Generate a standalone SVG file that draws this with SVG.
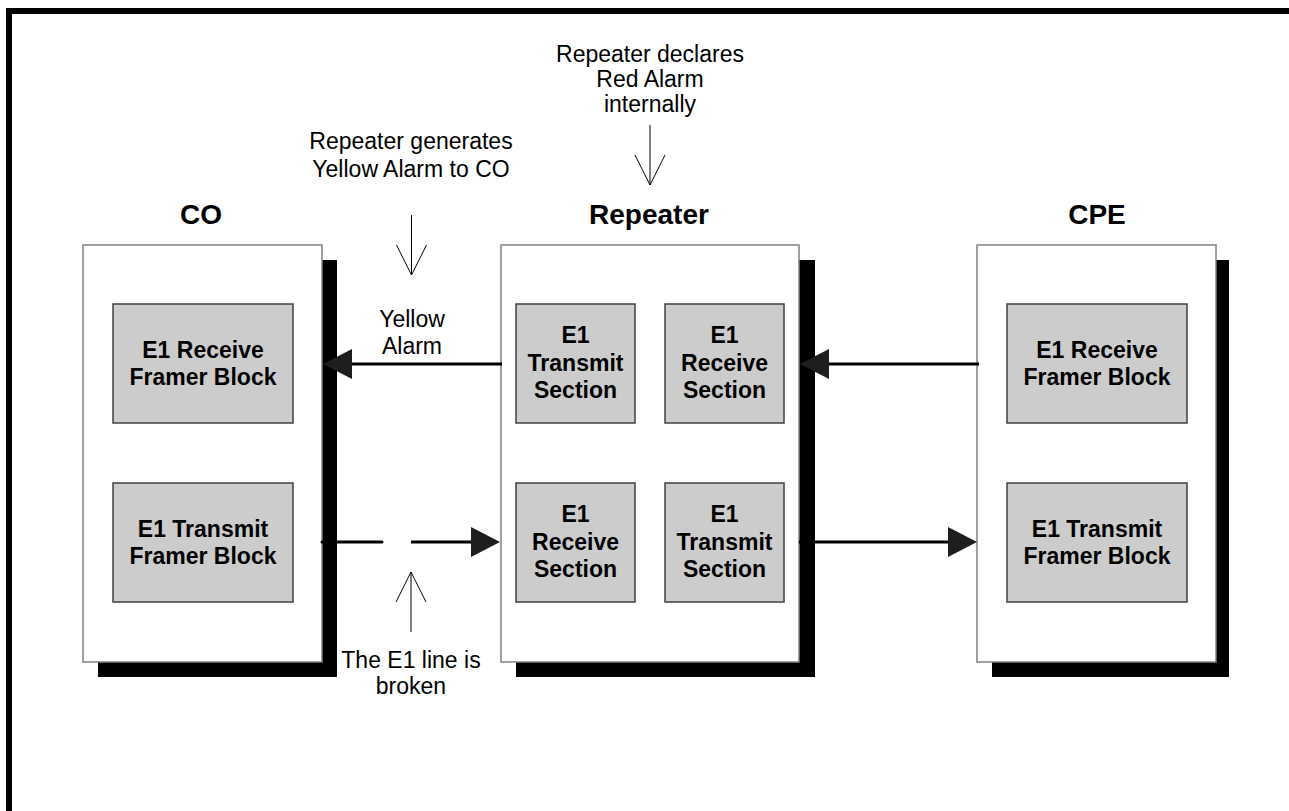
<svg xmlns="http://www.w3.org/2000/svg" width="1289" height="811" viewBox="0 0 1289 811">
<style>
.frame{fill:#000}
.shadow{fill:#000}
.box{fill:#fff;stroke:#808080;stroke-width:1.5}
.inner{fill:#cccccc;stroke:#404040;stroke-width:1.5}
.lbl{font-family:"Liberation Sans",Arial,sans-serif;font-size:23px;font-weight:bold;fill:#000;text-anchor:middle}
.head{font-family:"Liberation Sans",Arial,sans-serif;font-size:28px;font-weight:bold;fill:#000;text-anchor:middle}
.note{font-family:"Liberation Sans",Arial,sans-serif;font-size:23px;fill:#000;text-anchor:middle}
.wire{stroke:#000;stroke-width:3;fill:none}
.thin{stroke:#000;stroke-width:1;fill:none}
</style>
<defs>
<marker id="solid" viewBox="0 -15 29 30" refX="0" refY="0" markerWidth="29" markerHeight="30" markerUnits="userSpaceOnUse" orient="auto">
<path d="M0,-15 L29,0 L0,15 Z" fill="#1e1e1e"/>
</marker>
<marker id="open" viewBox="-31 -17 33 34" refX="0" refY="0" markerWidth="33" markerHeight="34" markerUnits="userSpaceOnUse" orient="auto">
<path d="M-30,-15 L0,0 L-30,15" fill="none" stroke="#000" stroke-width="1"/>
</marker>
</defs>
<rect width="1289" height="811" fill="#fff"/>
<g id="frame">
<rect class="frame" x="6" y="8" width="1283" height="6"/>
<rect class="frame" x="6" y="8" width="6" height="803"/>
</g>
<g id="co">
<rect class="shadow" x="98" y="260" width="239" height="417"/>
<rect class="box" x="83" y="245" width="239" height="417"/>
<text class="head" x="201" y="224">CO</text>
<g id="co-rx">
<rect class="inner" x="113" y="304" width="180" height="119"/>
<text class="lbl" x="203" y="358">E1 Receive</text>
<text class="lbl" x="203" y="385">Framer Block</text>
</g>
<g id="co-tx">
<rect class="inner" x="113" y="483" width="180" height="119"/>
<text class="lbl" x="203" y="537">E1 Transmit</text>
<text class="lbl" x="203" y="564">Framer Block</text>
</g>
</g>
<g id="repeater">
<rect class="shadow" x="516" y="260" width="299" height="417"/>
<rect class="box" x="501" y="245" width="298" height="417"/>
<text class="head" x="649" y="224">Repeater</text>
<g id="rep-tx-top">
<rect class="inner" x="516" y="304" width="119" height="119"/>
<text class="lbl" x="575.5" y="343">E1</text>
<text class="lbl" x="575.5" y="371">Transmit</text>
<text class="lbl" x="575.5" y="398">Section</text>
</g>
<g id="rep-rx-top">
<rect class="inner" x="665" y="304" width="119" height="119"/>
<text class="lbl" x="724.5" y="343">E1</text>
<text class="lbl" x="724.5" y="371">Receive</text>
<text class="lbl" x="724.5" y="398">Section</text>
</g>
<g id="rep-rx-bot">
<rect class="inner" x="516" y="483" width="119" height="119"/>
<text class="lbl" x="575.5" y="522">E1</text>
<text class="lbl" x="575.5" y="550">Receive</text>
<text class="lbl" x="575.5" y="577">Section</text>
</g>
<g id="rep-tx-bot">
<rect class="inner" x="665" y="483" width="119" height="119"/>
<text class="lbl" x="724.5" y="522">E1</text>
<text class="lbl" x="724.5" y="550">Transmit</text>
<text class="lbl" x="724.5" y="577">Section</text>
</g>
</g>
<g id="cpe">
<rect class="shadow" x="992" y="260" width="237" height="417"/>
<rect class="box" x="977" y="245" width="239" height="417"/>
<text class="head" x="1097" y="224">CPE</text>
<g id="cpe-rx">
<rect class="inner" x="1007" y="304" width="180" height="119"/>
<text class="lbl" x="1097" y="358">E1 Receive</text>
<text class="lbl" x="1097" y="385">Framer Block</text>
</g>
<g id="cpe-tx">
<rect class="inner" x="1007" y="483" width="180" height="119"/>
<text class="lbl" x="1097" y="537">E1 Transmit</text>
<text class="lbl" x="1097" y="564">Framer Block</text>
</g>
</g>
<g id="notes">
<text class="note" x="650" y="62">Repeater declares</text>
<text class="note" x="650" y="87">Red Alarm</text>
<text class="note" x="650" y="112">internally</text>
<text class="note" x="411" y="149">Repeater generates</text>
<text class="note" x="411" y="177">Yellow Alarm to CO</text>
<text class="note" x="412" y="327">Yellow</text>
<text class="note" x="412" y="354">Alarm</text>
<text class="note" x="411" y="668">The E1 line is</text>
<text class="note" x="411" y="694">broken</text>
</g>
<g id="connectors">
<line class="wire" x1="502" y1="364" x2="352" y2="364" marker-end="url(#solid)"/>
<line class="wire" x1="979" y1="364" x2="829" y2="364" marker-end="url(#solid)"/>
<line class="wire" x1="322" y1="542" x2="382" y2="542" stroke-linecap="round"/>
<line class="wire" x1="411" y1="542" x2="471" y2="542" marker-end="url(#solid)"/>
<line class="wire" x1="799" y1="542" x2="948" y2="542" marker-end="url(#solid)"/>
<line class="thin" x1="650" y1="125" x2="650" y2="185" marker-end="url(#open)"/>
<line class="thin" x1="411.5" y1="215" x2="411.5" y2="275" marker-end="url(#open)"/>
<line class="thin" x1="411" y1="632" x2="411" y2="572" marker-end="url(#open)"/>
</g>
</svg>
